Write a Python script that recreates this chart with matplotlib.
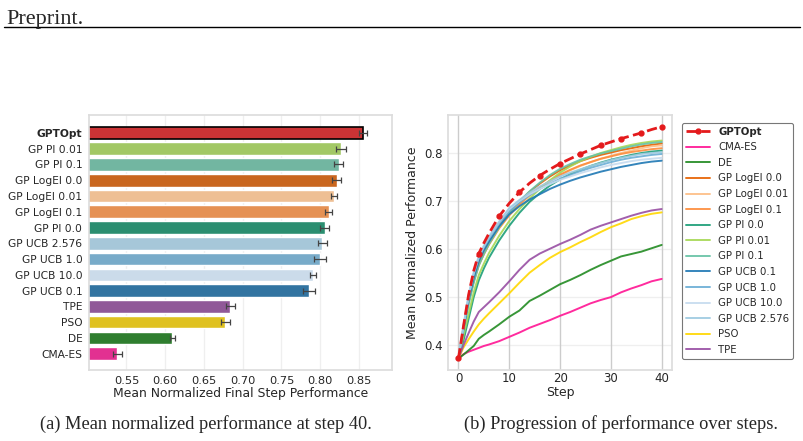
import matplotlib
matplotlib.use("Agg")
from matplotlib import pyplot as plt
from matplotlib.lines import Line2D
import seaborn as sns

# ---- bar chart data (final step, sorted) ----
bar_methods = ["GPTOpt", "GP PI 0.01", "GP PI 0.1", "GP LogEI 0.0", "GP LogEI 0.01",
               "GP LogEI 0.1", "GP PI 0.0", "GP UCB 2.576", "GP UCB 1.0", "GP UCB 10.0",
               "GP UCB 0.1", "TPE", "PSO", "DE", "CMA-ES"]
bar_means = [0.8556, 0.8266, 0.8240, 0.8213, 0.8174, 0.8110, 0.8057, 0.8027, 0.7992,
             0.7910, 0.7854, 0.6840, 0.6774, 0.6090, 0.5383]
bar_errs = [0.0052, 0.0063, 0.0059, 0.0059, 0.0039, 0.0046, 0.0060, 0.0054, 0.0076,
            0.0039, 0.0072, 0.0059, 0.0059, 0.0033, 0.0063]

# ---- progression data ----
steps = [0, 1, 2, 3, 4, 5, 6, 8, 10, 12, 14, 16, 18, 20, 22, 24, 26, 28, 30, 32, 34, 36, 38, 40]

gptopt = [0.372, 0.440, 0.505, 0.555, 0.591, 0.613, 0.633, 0.669, 0.696, 0.719, 0.738, 0.754,
          0.767, 0.779, 0.789, 0.799, 0.808, 0.817, 0.824, 0.831, 0.837, 0.843, 0.850, 0.856]
cma_es = [0.372, 0.381, 0.386, 0.390, 0.394, 0.398, 0.401, 0.408, 0.417, 0.426, 0.436, 0.444,
          0.452, 0.461, 0.469, 0.478, 0.487, 0.494, 0.500, 0.510, 0.518, 0.525, 0.533, 0.538]
de = [0.372, 0.380, 0.389, 0.398, 0.413, 0.421, 0.428, 0.443, 0.459, 0.472, 0.492, 0.503,
      0.515, 0.527, 0.536, 0.546, 0.557, 0.567, 0.576, 0.585, 0.590, 0.595, 0.602, 0.609]
logei_00 = [0.372, 0.435, 0.490, 0.535, 0.570, 0.594, 0.614, 0.648, 0.676, 0.700, 0.720, 0.737,
            0.752, 0.765, 0.775, 0.784, 0.791, 0.797, 0.802, 0.807, 0.811, 0.815, 0.818, 0.821]
logei_001 = [0.372, 0.435, 0.490, 0.533, 0.567, 0.590, 0.610, 0.644, 0.671, 0.693, 0.712, 0.728,
             0.742, 0.754, 0.765, 0.774, 0.782, 0.789, 0.795, 0.801, 0.806, 0.811, 0.815, 0.817]
logei_01 = [0.372, 0.435, 0.490, 0.533, 0.567, 0.590, 0.610, 0.644, 0.671, 0.694, 0.713, 0.729,
            0.743, 0.756, 0.766, 0.775, 0.782, 0.789, 0.794, 0.799, 0.803, 0.806, 0.809, 0.811]
pi_00 = [0.372, 0.410, 0.455, 0.500, 0.535, 0.560, 0.582, 0.618, 0.649, 0.676, 0.699, 0.717,
         0.733, 0.746, 0.757, 0.766, 0.774, 0.781, 0.787, 0.792, 0.797, 0.801, 0.804, 0.806]
pi_001 = [0.372, 0.420, 0.465, 0.510, 0.546, 0.570, 0.592, 0.628, 0.659, 0.684, 0.706, 0.726,
          0.744, 0.760, 0.773, 0.784, 0.793, 0.801, 0.807, 0.813, 0.818, 0.822, 0.825, 0.827]
pi_01 = [0.372, 0.430, 0.485, 0.530, 0.566, 0.590, 0.611, 0.646, 0.675, 0.700, 0.721, 0.739,
         0.755, 0.768, 0.778, 0.787, 0.794, 0.800, 0.805, 0.810, 0.815, 0.819, 0.822, 0.824]
ucb_01 = [0.372, 0.435, 0.495, 0.540, 0.575, 0.598, 0.616, 0.648, 0.673, 0.690, 0.704, 0.715,
          0.726, 0.735, 0.743, 0.750, 0.756, 0.762, 0.767, 0.772, 0.776, 0.780, 0.783, 0.785]
ucb_10 = [0.372, 0.440, 0.500, 0.548, 0.582, 0.604, 0.622, 0.654, 0.680, 0.698, 0.713, 0.726,
          0.737, 0.747, 0.755, 0.763, 0.770, 0.776, 0.782, 0.787, 0.791, 0.794, 0.797, 0.799]
ucb_100 = [0.372, 0.442, 0.505, 0.552, 0.586, 0.608, 0.627, 0.658, 0.684, 0.701, 0.715, 0.726,
           0.736, 0.745, 0.752, 0.759, 0.765, 0.771, 0.776, 0.780, 0.784, 0.787, 0.789, 0.791]
ucb_2576 = [0.372, 0.440, 0.503, 0.550, 0.584, 0.606, 0.625, 0.657, 0.686, 0.703, 0.718, 0.731,
            0.742, 0.752, 0.760, 0.767, 0.774, 0.780, 0.786, 0.791, 0.795, 0.799, 0.801, 0.803]
pso = [0.372, 0.395, 0.412, 0.428, 0.443, 0.455, 0.466, 0.487, 0.508, 0.530, 0.551, 0.567,
       0.582, 0.594, 0.604, 0.615, 0.625, 0.636, 0.646, 0.654, 0.663, 0.669, 0.674, 0.677]
tpe = [0.372, 0.400, 0.425, 0.449, 0.469, 0.479, 0.489, 0.510, 0.533, 0.557, 0.578, 0.591,
       0.601, 0.611, 0.620, 0.630, 0.641, 0.649, 0.656, 0.663, 0.670, 0.676, 0.681, 0.684]

colors = {
    "GPTOpt": "#e41a1c", "CMA-ES": "#ff1493", "DE": "#228b22",
    "GP LogEI 0.0": "#e66101", "GP LogEI 0.01": "#fdbe85", "GP LogEI 0.1": "#fd8d3c",
    "GP PI 0.0": "#1b9e77", "GP PI 0.01": "#a6d854", "GP PI 0.1": "#66c2a5",
    "GP UCB 0.1": "#1f78b4", "GP UCB 1.0": "#6baed6", "GP UCB 10.0": "#c6dbef",
    "GP UCB 2.576": "#9ecae1", "PSO": "#ffd700", "TPE": "#984ea3",
}

sns.set_theme(style="whitegrid")
plt.rcParams["font.family"] = ["DejaVu Sans"]

fig = plt.figure(figsize=(8.04, 4.41), dpi=100)

# header
fig.text(0.008, 0.955, "Preprint.", family="Liberation Serif", fontsize=16, va="center")
fig.add_artist(Line2D([0.005, 0.995], [0.939, 0.939], color="black", lw=1.0,
                      transform=fig.transFigure))

# ---- (a) bar chart ----
ax1 = fig.add_axes([0.111, 0.160, 0.377, 0.580])
ypos = list(range(len(bar_methods)))
bar_cols = [sns.desaturate(colors[m], 0.75) for m in bar_methods]
bars = ax1.barh(ypos, bar_means, height=0.8, color=bar_cols, xerr=bar_errs,
                error_kw=dict(ecolor="#444444", elinewidth=0.9, capsize=2, capthick=0.9))
bars[0].set_edgecolor("black")
bars[0].set_linewidth(1.2)
ax1.set_yticks(ypos)
ax1.set_yticklabels(bar_methods, fontsize=7.7)
ax1.get_yticklabels()[0].set_fontweight("bold")
ax1.set_ylim(15.06, -1.16)
ax1.set_xlim(0.502, 0.893)
ax1.set_xticks([0.55, 0.60, 0.65, 0.70, 0.75, 0.80, 0.85])
ax1.tick_params(axis="x", labelsize=8.2, pad=4, length=0)
ax1.tick_params(axis="y", pad=5, length=0)
ax1.grid(axis="y", visible=False)
ax1.grid(axis="x", alpha=0.3)
ax1.set_xlabel("Mean Normalized Final Step Performance", fontsize=8.9, labelpad=1)
for s in ax1.spines.values():
    s.set_color("#dddddd")

# ---- (b) progression ----
ax2 = fig.add_axes([0.5576, 0.161, 0.278, 0.578])
series = [
    ("CMA-ES", cma_es), ("DE", de), ("GP LogEI 0.0", logei_00),
    ("GP LogEI 0.01", logei_001), ("GP LogEI 0.1", logei_01), ("GP PI 0.0", pi_00),
    ("GP PI 0.01", pi_001), ("GP PI 0.1", pi_01), ("GP UCB 0.1", ucb_01),
    ("GP UCB 1.0", ucb_10), ("GP UCB 10.0", ucb_100), ("GP UCB 2.576", ucb_2576),
    ("PSO", pso), ("TPE", tpe),
]
marker_idx = [i for i, s in enumerate(steps) if s % 4 == 0]
ax2.plot(steps, gptopt, color=colors["GPTOpt"], ls="--", lw=2, marker="o", ms=3.5,
         markevery=marker_idx, label="GPTOpt", zorder=5)
for name, vals in series:
    ax2.plot(steps, vals, color=colors[name], lw=1.4, alpha=0.9, label=name)
ax2.set_xticks([0, 10, 20, 30, 40])
ax2.set_yticks([0.4, 0.5, 0.6, 0.7, 0.8])
ax2.tick_params(axis="x", labelsize=8.5, pad=1.5, length=0)
ax2.tick_params(axis="y", labelsize=8.5, pad=4, length=0)
ax2.grid(axis="y", alpha=0.3)
ax2.set_xlabel("Step", fontsize=9, labelpad=1)
ax2.set_ylabel("Mean Normalized Performance", fontsize=9, labelpad=4)
for s in ax2.spines.values():
    s.set_color("#dddddd")

leg = ax2.legend(loc="upper left", bbox_to_anchor=(681.7 / 804, 1 - 122.7 / 441),
                 bbox_transform=fig.transFigure, borderaxespad=0, fontsize=7.3,
                 frameon=True, fancybox=True, handlelength=2.4, labelspacing=0.55)
leg.get_frame().set_edgecolor("#555555")
leg.get_frame().set_linewidth(0.8)
leg.get_texts()[0].set_fontweight("bold")

# captions
fig.text(0.256, 0.038, "(a) Mean normalized performance at step 40.",
         family="Liberation Serif", fontsize=13.2, ha="center", va="center")
fig.text(0.772, 0.038, "(b) Progression of performance over steps.",
         family="Liberation Serif", fontsize=13.2, ha="center", va="center")

fig.savefig("out.png", dpi=100)
